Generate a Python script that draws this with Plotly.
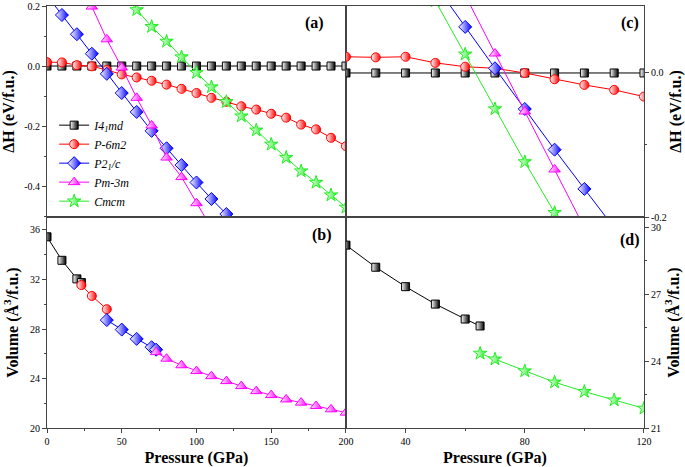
import plotly.graph_objects as go

# ---------------- data ----------------
# Panel (a): enthalpy difference, 0-200 GPa
P_a_I4 = [0, 10, 20, 30, 40, 50, 60, 70, 80, 90, 100, 110, 120, 130, 140, 150, 160, 170, 180, 190, 200]
H_a_I4 = [0.0, 0.0, 0.0, 0.0, 0.0, 0.0, 0.0, 0.0, 0.0, 0.0, 0.0, 0.0, 0.0, 0.0, 0.0, 0.0, 0.0, 0.0, 0.0, 0.0, 0.0]
P_a_P6 = [0, 10, 20, 30, 40, 50, 60, 70, 80, 90, 100, 110, 120, 130, 140, 150, 160, 170, 180, 190, 200]
H_a_P6 = [0.013, 0.012, 0.003, -0.001, -0.013, -0.028, -0.038, -0.049, -0.062, -0.076, -0.090,
          -0.106, -0.119, -0.134, -0.145, -0.159, -0.172, -0.195, -0.211, -0.239, -0.267]
P_a_P2 = [0, 10, 20, 30, 40, 50, 60, 70, 80, 90, 100, 110, 120]
H_a_P2 = [0.235, 0.170, 0.106, 0.041, -0.026, -0.090, -0.153, -0.216, -0.274, -0.330, -0.388, -0.443, -0.493]
P_a_Pm = [30, 40, 50, 60, 70, 80, 90, 100, 110]
H_a_Pm = [0.198, 0.089, -0.005, -0.106, -0.198, -0.305, -0.370, -0.457, -0.540]
P_a_Cm = [50, 60, 70, 80, 90, 100, 110, 120, 130, 140, 150, 160, 170, 180, 190, 200]
H_a_Cm = [0.245, 0.187, 0.131, 0.082, 0.030, -0.022, -0.070, -0.119, -0.167, -0.214, -0.261,
          -0.305, -0.350, -0.388, -0.430, -0.471]

# Panel (b): volume, 0-200 GPa
P_b_I4 = [0, 10, 20, 23]
V_b_I4 = [35.45, 33.55, 32.05, 31.75]
P_b_P6 = [23, 30, 40]
V_b_P6 = [31.55, 30.67, 29.60]
P_b_P2 = [40, 50, 60, 70, 73]
V_b_P2 = [28.72, 27.95, 27.20, 26.53, 26.33]
P_b_Pm = [73, 80, 90, 100, 110, 120, 130, 140, 150, 160, 170, 180, 190, 200]
V_b_Pm = [26.13, 25.60, 25.07, 24.60, 24.19, 23.79, 23.39, 22.98, 22.66, 22.31, 22.05, 21.78, 21.51, 21.24]

# Panel (c): enthalpy difference, 20-120 GPa
P_c_I4 = [20, 30, 40, 50, 60, 70, 80, 90, 100, 110, 120]
H_c_I4 = [0.0, 0.0, 0.0, 0.0, 0.0, 0.0, 0.0, 0.0, 0.0, 0.0, 0.0]
P_c_P6 = [20, 30, 40, 50, 60, 70, 80, 90, 100, 110, 120]
H_c_P6 = [0.0225, 0.0217, 0.0225, 0.014, 0.0087, 0.0065, 0.0, -0.0087, -0.0166, -0.0235, -0.0328]
P_c_P2 = [50, 60, 70, 80, 90, 100, 110]
H_c_P2 = [0.122, 0.064, 0.0065, -0.050, -0.1065, -0.161, -0.215]
P_c_Pm = [60, 70, 80, 90, 100]
H_c_Pm = [0.108, 0.027, -0.0535, -0.134, -0.215]
P_c_Cm = [50, 60, 70, 80, 90]
H_c_Cm = [0.100, 0.026, -0.050, -0.1235, -0.194]

# Panel (d): volume, 20-120 GPa
P_d_I4 = [20, 30, 40, 50, 60, 65]
V_d_I4 = [29.19, 28.20, 27.33, 26.55, 25.88, 25.57]
P_d_Cm = [65, 70, 80, 90, 100, 110, 120]
V_d_Cm = [24.34, 24.08, 23.55, 23.05, 22.63, 22.25, 21.88]

# tick labels
ya_vals = [-0.4, -0.2, 0.0, 0.2]
ya_text = ["-0.4", "-0.2", "0.0", "0.2"]
yc_vals = [-0.2, 0.0]
yc_text = ["-0.2", "0.0"]

names = ["<i>I4<sub>1</sub>md</i>", "<i>P-6m2</i>", "<i>P2<sub>1</sub>/c</i>", "<i>Pm-3m</i>", "<i>Cmcm</i>"]
colors = ["#000000", "#ff0000", "#0000ff", "#ff00ff", "#22ee22"]
symbols = ["square", "circle", "diamond", "triangle-up", "star"]
sizes = [8, 9, 10, 10, 10]

SERIF = "Liberation Serif"
AXC = "#444444"

fig = go.Figure()


def add(P, V, k, xa, ya, legend=False):
    fig.add_trace(go.Scatter(
        x=P, y=V, xaxis=xa, yaxis=ya, mode="lines+markers",
        line=dict(color=colors[k], width=1),
        marker=dict(symbol=symbols[k], size=sizes[k], color="white",
                    line=dict(color=colors[k], width=1),
                    gradient=dict(type="horizontal", color=colors[k])),
        name=names[k], showlegend=legend, legendrank=k + 1))


add(P_a_I4, H_a_I4, 0, "x", "y", True)
add(P_a_P6, H_a_P6, 1, "x", "y", True)
add(P_a_P2, H_a_P2, 2, "x", "y", True)
add(P_a_Pm, H_a_Pm, 3, "x", "y", True)
add(P_a_Cm, H_a_Cm, 4, "x", "y", True)

add(P_c_I4, H_c_I4, 0, "x2", "y2")
add(P_c_P6, H_c_P6, 1, "x2", "y2")
add(P_c_P2, H_c_P2, 2, "x2", "y2")
add(P_c_Pm, H_c_Pm, 3, "x2", "y2")
add(P_c_Cm, H_c_Cm, 4, "x2", "y2")

add(P_b_I4, V_b_I4, 0, "x3", "y3")
add(P_b_P6, V_b_P6, 1, "x3", "y3")
add(P_b_P2, V_b_P2, 2, "x3", "y3")
add(P_b_Pm, V_b_Pm, 3, "x3", "y3")

add(P_d_I4, V_d_I4, 0, "x4", "y4")
add(P_d_Cm, V_d_Cm, 4, "x4", "y4")

tickfont = dict(family=SERIF, size=10, color="#000")
titlefont = dict(family=SERIF, size=16, color="#000", weight="bold")
common = dict(showline=True, linecolor=AXC, linewidth=1, mirror=True, showgrid=False,
              zeroline=False, ticks="outside", ticklen=4, tickcolor=AXC, tickfont=tickfont,
              automargin=False)
nolab = {k: v for k, v in common.items() if k != "ticks"}
minor = dict(ticks="outside", ticklen=2, tickcolor=AXC, showgrid=False)

XL = [0, 0.5008]
XR = [0.5008, 1]
YT = [0.5, 1]
YB = [0, 0.5]

fig.update_layout(
    width=685, height=467,
    margin=dict(l=47, r=41, t=6, b=39),
    paper_bgcolor="white", plot_bgcolor="white",
    showlegend=True,
    legend=dict(x=0.012, y=0.752, xanchor="left", yanchor="top",
                bgcolor="rgba(0,0,0,0)", font=dict(family=SERIF, size=12, color="#000"),
                itemwidth=30, tracegroupgap=0),
    xaxis=dict(domain=XL, anchor="y", range=[0, 200], showticklabels=False, ticks="", **nolab),
    xaxis2=dict(domain=XR, anchor="y2", range=[20, 120], showticklabels=False, ticks="", **nolab),
    xaxis3=dict(domain=XL, anchor="y3", range=[0, 200], dtick=50, tick0=0,
                minor=dict(dtick=25, **minor),
                title=dict(text="Pressure (GPa)", font=titlefont, standoff=5), **common),
    xaxis4=dict(domain=XR, anchor="y4", range=[20, 120], dtick=40, tick0=0,
                minor=dict(dtick=20, tick0=0, **minor),
                title=dict(text="Pressure (GPa)", font=titlefont, standoff=5), **common),
    yaxis=dict(domain=YT, anchor="x", range=[-0.503, 0.2], tickmode="array",
               tickvals=ya_vals, ticktext=ya_text,
               minor=dict(dtick=0.1, tick0=0, **minor),
               title=dict(text="ΔH (eV/f.u.)", font=titlefont, standoff=7), **common),
    yaxis2=dict(domain=YT, anchor="x2", side="right", range=[-0.2, 0.093], tickmode="array",
                tickvals=yc_vals, ticktext=yc_text,
                minor=dict(dtick=0.1, tick0=0, **minor),
                title=dict(text="ΔH (eV/f.u.)", font=titlefont, standoff=7), **common),
    yaxis3=dict(domain=YB, anchor="x3", range=[20, 37.05], dtick=4, tick0=0,
                minor=dict(dtick=2, tick0=0, **minor),
                title=dict(text="Volume (Å<sup>3</sup>/f.u.)", font=titlefont, standoff=7), **common),
    yaxis4=dict(domain=YB, anchor="x4", side="right", range=[21, 30.45], dtick=3, tick0=0,
                minor=dict(dtick=1.5, tick0=0, **minor),
                title=dict(text="Volume (Å<sup>3</sup>/f.u.)", font=titlefont, standoff=7), **common),
)

labfont = dict(family=SERIF, size=16, color="#000", weight="bold")
for txt, xr, yr, xx, yy in [("(a)", "x domain", "y domain", 0.896, 0.92),
                            ("(c)", "x2 domain", "y2 domain", 0.953, 0.92),
                            ("(b)", "x3 domain", "y3 domain", 0.92, 0.915),
                            ("(d)", "x4 domain", "y4 domain", 0.953, 0.89)]:
    fig.add_annotation(text=txt, xref=xr, yref=yr, x=xx, y=yy, showarrow=False,
                       font=labfont, xanchor="center", yanchor="middle")

fig.write_html("out.html", config={"displayModeBar": False},
               post_script="document.body.style.margin='0px';")
